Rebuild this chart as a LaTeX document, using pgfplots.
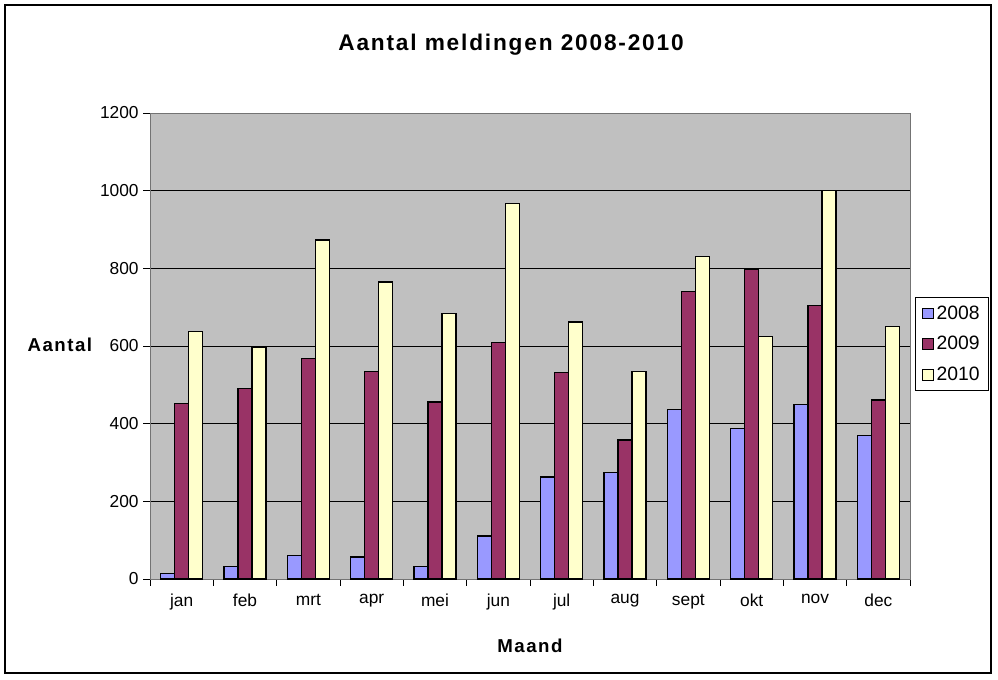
\documentclass[border=0pt]{standalone}
\usepackage{pgfplots}
\pgfplotsset{compat=1.18}
\usepackage{fontspec}
\setmainfont{Liberation Sans}
\newfontfamily\titlefont[LetterSpace=8]{Liberation Sans}
\newfontfamily\labelfont[LetterSpace=8]{Liberation Sans}
\definecolor{c08}{RGB}{153,153,255}
\definecolor{c09}{RGB}{153,51,102}
\definecolor{c10}{RGB}{255,255,204}
\definecolor{plotbg}{RGB}{192,192,192}
\begin{document}
\begin{tikzpicture}
\useasboundingbox (0pt,0pt) rectangle (748.5pt,-509.25pt);
\draw[black,line width=0.8pt] (3.75pt,-3.75pt) rectangle (743.25pt,-504.75pt);
\node[font=\fontsize{17}{19}\titlefont\bfseries] at (383.25pt,-33.75pt) {Aantal meldingen 2008-2010};
\begin{axis}[
  at={(112.5pt,-84.75pt)}, anchor=north west,
  scale only axis, width=570pt, height=349.5pt,
  xmin=-0.5, xmax=11.5, ymin=0, ymax=1200,
  ytick={0,200,...,1200},
  xtick={0,...,11},
  xticklabels={jan,feb,mrt,apr,mei,jun,jul,aug,sept,okt,nov,dec},
  minor xtick={-0.5,0.5,...,11.5},
  major x tick style={draw=none},
  tick align=outside, tick pos=left,
  major tick length=5pt, minor tick length=5pt,
  every tick/.style={black, line width=0.6pt},
  minor x tick style={black, line width=0.6pt},
  axis background/.style={fill=plotbg},
  axis line style={draw=gray!90!black},
  ymajorgrids, grid style={black, line width=0.6pt},
  ybar, bar width=10.5pt,
  ticklabel style={font=\fontsize{13}{15}\selectfont},
  /pgf/number format/assume math mode=true,
  /pgf/number format/1000 sep={},
  xticklabel style={yshift=-3pt},
  xlabel={Maand}, ylabel={Aantal},
  every axis x label/.style={at={(axis description cs:0.5,-0.144)},anchor=center,font=\fontsize{14}{16}\labelfont\bfseries},
  every axis y label/.style={at={(axis description cs:-0.07,0.502)},anchor=east,font=\fontsize{14}{16}\labelfont\bfseries},
  legend style={at={(1.007,0.504)}, anchor=west, draw=black, line width=0.6pt, font=\fontsize{14.5}{17}\selectfont, row sep=7.5pt, inner xsep=5pt, inner ysep=4pt},
  legend cell align=left,
  legend image code/.code={\draw[#1, draw=black, line width=0.6pt] (0pt,-4pt) rectangle (8pt,4pt);},
]
\addplot[fill=c08, draw=black, line width=1pt, bar shift=-10.5pt] coordinates {
(0,15) (1,33) (2,61) (3,57) (4,33) (5,111) (6,263) (7,275) (8,437) (9,387) (10,449) (11,370)};
\addplot[fill=c09, draw=black, line width=1pt, bar shift=0pt] coordinates {
(0,452) (1,490) (2,568) (3,535) (4,456) (5,609) (6,531) (7,358) (8,741) (9,798) (10,704) (11,461)};
\addplot[fill=c10, draw=black, line width=1pt, bar shift=10.5pt] coordinates {
(0,637) (1,596) (2,873) (3,765) (4,683) (5,967) (6,662) (7,535) (8,831) (9,625) (10,1000) (11,650)};
\legend{2008,2009,2010}
\end{axis}
\end{tikzpicture}
\end{document}
